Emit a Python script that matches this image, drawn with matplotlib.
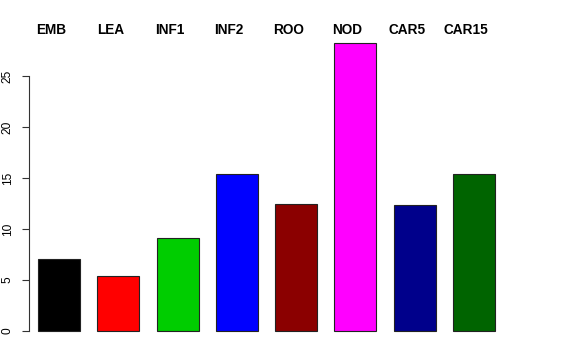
import matplotlib
matplotlib.use("Agg")
import matplotlib.pyplot as plt
import matplotlib.transforms as mtransforms
import numpy as np

# datos del grafico
categorias = ["EMB", "LEA", "INF1", "INF2", "ROO", "NOD", "CAR5", "CAR15"]
valores = [7.05, 5.37, 9.1, 15.4, 12.45, 28.25, 12.4, 15.4]
colores = ["#000000", "#FF0000", "#00CD00", "#0000FF",
           "#8B0000", "#FF00FF", "#00008B", "#006400"]
yticks = [0, 5, 10, 15, 20, 25]

plt.rcParams["font.family"] = ["Liberation Sans", "DejaVu Sans"]

fig = plt.figure(figsize=(5.76, 3.6), dpi=100)
W, H = 576, 360
# region del grafico en pixeles
x0, x1 = 29, 504
y0, y1 = 32.4, 342.5
ax = fig.add_axes([x0 / W, (H - y1) / H, (x1 - x0) / W, (y1 - y0) / H])

x = np.arange(len(categorias))
ax.bar(x, valores, width=0.708, color=colores, edgecolor="#222222", linewidth=0.8)

ax.set_xlim(-0.506, 7.506)
ax.set_ylim(-1.13, 29.33)

for s in ["top", "right", "bottom"]:
    ax.spines[s].set_visible(False)
ax.spines["left"].set_bounds(0, 25)
ax.spines["left"].set_linewidth(0.8)
ax.spines["left"].set_color("#333333")
ax.set_xticks([])
ax.set_yticks(yticks)
ax.set_yticklabels([str(t) for t in yticks], rotation=90, va="center", fontsize=8.6)
ax.tick_params(axis="y", length=5, width=0.8, color="#333333", pad=6)

# etiquetas arriba
trans = mtransforms.blended_transform_factory(ax.transData, fig.transFigure)
for i, c in enumerate(categorias):
    ax.text(i - 0.135, (H - 29.5) / H, c, transform=trans, ha="center", va="center",
            fontsize=9.8, fontweight="bold")

fig.savefig("out.png", dpi=100)
